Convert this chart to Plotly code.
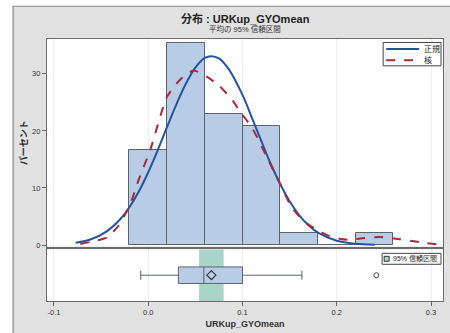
import plotly.graph_objects as go

# ---- data ----
bin_left = [-0.02, 0.02, 0.06, 0.10, 0.14, 0.18, 0.22]
bin_width = 0.04
hist_pct = [16.7, 35.4, 23.0, 20.8, 2.1, 0.0, 2.1]

normal_x = [-0.077, -0.06, -0.044, -0.03, -0.02, -0.01, 0.0, 0.01, 0.02, 0.03, 0.04, 0.05,
            0.06, 0.067, 0.075, 0.085, 0.1, 0.11, 0.12, 0.13, 0.14, 0.15, 0.16, 0.17, 0.18,
            0.2, 0.22, 0.24]
normal_y = [0.40, 1.07, 2.41, 4.48, 6.62, 9.38, 12.76, 16.6, 20.7, 24.7, 28.3, 31.1,
            32.8, 33.1, 32.7, 30.9, 26.3, 22.3, 18.2, 14.2, 10.7, 7.66, 5.26, 3.48, 2.19,
            0.77, 0.23, 0.06]

kernel_x = [-0.072, -0.06, -0.044, -0.032, -0.02, -0.01, 0.002, 0.02, 0.034, 0.048, 0.062,
            0.076, 0.09, 0.097, 0.111, 0.125, 0.139, 0.153, 0.168, 0.182, 0.192, 0.203,
            0.213, 0.227, 0.245, 0.263, 0.28, 0.295, 0.308]
kernel_y = [0.2, 0.6, 1.3, 3.3, 6.8, 11.5, 16.6, 26.0, 29.0, 30.6, 29.5,
            27.8, 25.2, 23.5, 20.3, 15.7, 11.0, 6.4, 3.8, 2.4, 1.6, 1.1,
            0.9, 1.2, 1.4, 1.1, 0.7, 0.35, 0.1]

box_q1, box_median, box_q3 = 0.032, 0.059, 0.100
box_low, box_high = -0.008, 0.163
box_mean = 0.067
outliers = [0.242]
ci_lower, ci_upper = 0.054, 0.080

x_tickvals = [-0.1, 0.0, 0.1, 0.2, 0.3]
x_ticktext = ["-0.1", "0.0", "0.1", "0.2", "0.3"]
y_tickvals = [0, 10, 20, 30]
y_ticktext = ["0", "10", "20", "30"]

legend_labels = ["正規", "核"]
ci_label = "95% 信頼区間"

FONT = "Liberation Sans, Noto Sans CJK JP, sans-serif"
BAR_FILL = "#b8cce6"
EDGE = "#5b636b"
BLUE = "#24549f"
RED = "#a52a3a"
CI_FILL = "#a9d5c8"
BG = "#e1e1e1"

# layout geometry (pixels)
W, H = 450, 333
ML, MR, MT, MB = 47, 6, 39, 30
PW, PH = W - ML - MR, H - MT - MB


def px(p):
    return (p - ML) / PW


def py(p):
    return (H - MB - p) / PH


fig = go.Figure()

fig.add_trace(go.Bar(x=bin_left, y=hist_pct, width=bin_width, offset=0,
                     marker=dict(color=BAR_FILL, line=dict(color=EDGE, width=1)),
                     showlegend=False, xaxis="x", yaxis="y"))
fig.add_trace(go.Scatter(x=normal_x, y=normal_y, mode="lines", name=legend_labels[0],
                         line=dict(color=BLUE, width=2, shape="spline"),
                         showlegend=False, xaxis="x", yaxis="y"))
fig.add_trace(go.Scatter(x=kernel_x, y=kernel_y, mode="lines", name=legend_labels[1],
                         line=dict(color=RED, width=2, dash="dash", shape="spline",
                                   smoothing=0.6),
                         showlegend=False, xaxis="x", yaxis="y"))

# box panel
fig.add_trace(go.Box(y=[0.5], q1=[box_q1], median=[box_median], q3=[box_q3],
                     lowerfence=[box_low], upperfence=[box_high], orientation="h",
                     width=0.32, whiskerwidth=0.55, boxpoints=False,
                     fillcolor=BAR_FILL, line=dict(color=EDGE, width=1),
                     showlegend=False, xaxis="x2", yaxis="y2"))
fig.add_trace(go.Scatter(x=[box_mean], y=[0.5], mode="markers",
                         marker=dict(symbol="diamond-open", size=7,
                                     color="#333333", line=dict(width=1.2)),
                         showlegend=False, xaxis="x2", yaxis="y2"))
fig.add_trace(go.Scatter(x=outliers, y=[0.5] * len(outliers), mode="markers",
                         marker=dict(symbol="circle-open", size=5, color="#444444",
                                     line=dict(width=1)),
                         showlegend=False, xaxis="x2", yaxis="y2"))

shapes = []
shapes.append(dict(type="rect", xref="x2", yref="y2 domain", x0=ci_lower, x1=ci_upper,
                   y0=0, y1=1, fillcolor=CI_FILL, line=dict(width=0), layer="below"))

# white outer strips (top and left) and frame border
shapes.append(dict(type="rect", xref="paper", yref="paper", x0=px(-20), x1=px(W + 20),
                   y0=py(6), y1=py(-20), fillcolor="white", line=dict(width=0), layer="below"))
shapes.append(dict(type="rect", xref="paper", yref="paper", x0=px(-20), x1=px(13),
                   y0=py(H + 20), y1=py(-20), fillcolor="white", line=dict(width=0),
                   layer="below"))
shapes.append(dict(type="rect", xref="paper", yref="paper", x0=px(13), x1=px(W + 20),
                   y0=py(H + 20), y1=py(6), fillcolor="rgba(0,0,0,0)",
                   line=dict(color="#8a8a8a", width=1.2), layer="below"))

# legend 1 (histogram panel)
shapes.append(dict(type="rect", xref="paper", yref="paper", x0=px(384), x1=px(442),
                   y0=py(66), y1=py(42.5), fillcolor="white",
                   line=dict(color="#444444", width=1)))
shapes.append(dict(type="line", xref="paper", yref="paper", x0=px(387), x1=px(420),
                   y0=py(49), y1=py(49), line=dict(color=BLUE, width=2)))
shapes.append(dict(type="line", xref="paper", yref="paper", x0=px(387), x1=px(420),
                   y0=py(60.5), y1=py(60.5), line=dict(color=RED, width=2, dash="dash")))
# legend 2 (box panel)
shapes.append(dict(type="rect", xref="paper", yref="paper", x0=px(383), x1=px(442),
                   y0=py(266), y1=py(255), fillcolor="white",
                   line=dict(color="#444444", width=1)))
shapes.append(dict(type="rect", xref="paper", yref="paper", x0=px(385), x1=px(390),
                   y0=py(263), y1=py(258), fillcolor=CI_FILL,
                   line=dict(color="#333333", width=1)))

annotations = [
    dict(text="<b>分布 : URKup_GYOmean</b>", xref="paper", yref="paper",
         x=0.5, y=py(18), xanchor="center", yanchor="middle",
         showarrow=False, font=dict(size=11, color="#222222")),
    dict(text="平均の 95% 信頼区間", xref="paper", yref="paper",
         x=0.5, y=py(29), xanchor="center", yanchor="middle",
         showarrow=False, font=dict(size=7.5, color="#333333")),
    dict(text=legend_labels[0], xref="paper", yref="paper", x=px(423), y=py(49),
         xanchor="left", yanchor="middle", showarrow=False,
         font=dict(size=8, color="#222222")),
    dict(text=legend_labels[1], xref="paper", yref="paper", x=px(423), y=py(60.5),
         xanchor="left", yanchor="middle", showarrow=False,
         font=dict(size=8, color="#222222")),
    dict(text=ci_label, xref="paper", yref="paper", x=px(392), y=py(260.5),
         xanchor="left", yanchor="middle", showarrow=False,
         font=dict(size=7, color="#222222")),
]

axis_common = dict(showline=True, linecolor="#6b6b6b", linewidth=1.2, mirror=True,
                   zeroline=False)
xr = [-0.1074, 0.3127]

fig.update_layout(
    width=W, height=H,
    margin=dict(l=ML, r=MR, t=MT, b=MB),
    paper_bgcolor=BG, plot_bgcolor="white",
    font=dict(family=FONT, size=8, color="#333333"),
    showlegend=False,
    xaxis=dict(domain=[0, 1], anchor="y", range=xr, tickvals=x_tickvals,
               showticklabels=False, ticks="", showgrid=True, gridcolor="#eeeeee",
               **axis_common),
    yaxis=dict(domain=[0.208, 1], anchor="x", range=[-0.25, 36.1],
               tickvals=y_tickvals, ticktext=y_ticktext, ticks="outside", ticklen=4,
               tickcolor="#6b6b6b", showgrid=False,
               tickfont=dict(size=7.5, color="#333333"),
               title=dict(text="<b>パーセント</b>", font=dict(size=9), standoff=2),
               **axis_common),
    xaxis2=dict(domain=[0, 1], anchor="y2", range=xr, tickvals=x_tickvals,
                ticktext=x_ticktext, ticks="outside", ticklen=4, tickcolor="#6b6b6b",
                showgrid=True, gridcolor="#eeeeee",
                tickfont=dict(size=7.5, color="#333333"),
                title=dict(text="<b>URKup_GYOmean</b>", font=dict(size=9), standoff=4),
                **axis_common),
    yaxis2=dict(domain=[0, 0.197], anchor="x2", range=[0, 1], showticklabels=False,
                ticks="", showgrid=False, **axis_common),
    shapes=shapes,
    annotations=annotations,
    bargap=0,
)

fig.write_html("out.html")
